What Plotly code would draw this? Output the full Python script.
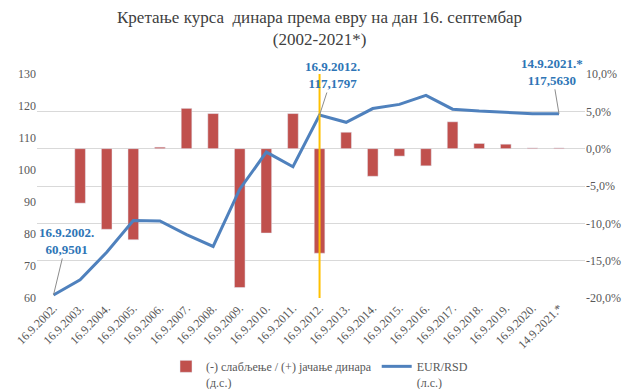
import plotly.graph_objects as go

categories = ["16.9.2002.", "16.9.2003.", "16.9.2004.", "16.9.2005.", "16.9.2006.",
              "16.9.2007.", "16.9.2008.", "16.9.2009.", "16.9.2010.", "16.9.2011.",
              "16.9.2012.", "16.9.2013.", "16.9.2014.", "16.9.2015.", "16.9.2016.",
              "16.9.2017.", "16.9.2018.", "16.9.2019.", "16.9.2020.", "14.9.2021.*"]

eur_rsd = [60.9501, 65.7, 74.3, 84.2, 84.1, 79.8, 76.1, 94.0, 105.6, 101.0,
           117.1797, 114.9, 119.2, 120.5, 123.3, 119.0, 118.4, 117.9, 117.6, 117.5630]

change_pct = [None, -7.3, -10.8, -12.2, 0.2, 5.4, 4.7, -18.6, -11.3, 4.7,
              -14.0, 2.2, -3.7, -1.0, -2.3, 3.6, 0.7, 0.6, 0.1, 0.1]

right_ticks = [-0.20, -0.15, -0.10, -0.05, 0.0, 0.05, 0.10]
right_ticktext = ["-20,0%", "-15,0%", "-10,0%", "-5,0%", "0,0%", "5,0%", "10,0%"]
left_ticks = [60, 70, 80, 90, 100, 110, 120, 130]

bar_name = "(-) слабљење / (+) јачање динара<br>(д.с.)"
line_name = "EUR/RSD<br>(л.с.)"
title_text = "Кретање курса  динара према евру на дан 16. септембар<br>(2002-2021*)"

FONT = "Liberation Serif"
GRAY = "#595959"
BLUE_TXT = "#2E75B6"

bar_vals = [None if v is None else v / 100 for v in change_pct]

fig = go.Figure()
fig.add_trace(go.Bar(x=categories, y=bar_vals, name=bar_name, marker_color="#C0504D",
                     width=0.4, yaxis="y"))
fig.add_trace(go.Scatter(x=categories, y=eur_rsd, name=line_name, mode="lines",
                         line=dict(color="#4F81BD", width=3), yaxis="y2"))

fig.add_shape(type="line", xref="x", yref="paper", x0=categories[10], x1=categories[10],
              y0=0, y1=1, line=dict(color="#FFC000", width=2), layer="above")

ann_font = dict(family=FONT, size=13, color=BLUE_TXT)
ann_specs = [(0, 13, -54), (10, 13, -40), (19, -7, -42)]
for idx, ax, ay in ann_specs:
    val = f"{eur_rsd[idx]:.4f}".replace(".", ",")
    fig.add_annotation(x=categories[idx], y=eur_rsd[idx], xref="x", yref="y2",
                       text=f"<b>{categories[idx]}<br>{val}</b>", font=ann_font,
                       showarrow=True, arrowhead=0, arrowwidth=1, arrowcolor="#8C8C8C",
                       ax=ax, ay=ay, standoff=0)

# title as a centered annotation
fig.add_annotation(x=0.5, y=1.205, xref="paper", yref="paper", xanchor="center",
                   yanchor="middle", showarrow=False, text=title_text,
                   font=dict(family=FONT, size=17, color="#404040"),
                   xshift=(54 - 37) / 2)

fig.update_layout(
    width=639, height=389,
    margin=dict(l=37, r=54, t=74, b=91, autoexpand=False),
    paper_bgcolor="white", plot_bgcolor="white",
    font=dict(family=FONT, color=GRAY, size=12),
    showlegend=True,
    legend=dict(orientation="h", x=0.5, xanchor="center", xref="container",
                y=0.095, yanchor="top", yref="container", valign="top",
                font=dict(family=FONT, size=12, color=GRAY), traceorder="normal"),
    xaxis=dict(type="category", tickangle=-45, showgrid=False, showline=False,
               ticks="", automargin=False,
               tickfont=dict(family=FONT, size=12, color=GRAY)),
    yaxis=dict(side="right", range=[-0.20, 0.10], tickvals=right_ticks,
               ticktext=right_ticktext, showgrid=True, gridcolor="#D9D9D9",
               zeroline=False, showline=False, ticks="", automargin=False,
               tickfont=dict(family=FONT, size=12, color=GRAY)),
    yaxis2=dict(side="left", overlaying="y", range=[60, 130], tickvals=left_ticks,
                showgrid=False, zeroline=False, showline=False, ticks="",
                automargin=False,
                tickfont=dict(family=FONT, size=12, color=GRAY)),
    bargap=0.6,
)

fig.write_html("out.html", config={"displayModeBar": False},
               post_script="document.body.style.margin='0';document.body.style.overflow='hidden';")
